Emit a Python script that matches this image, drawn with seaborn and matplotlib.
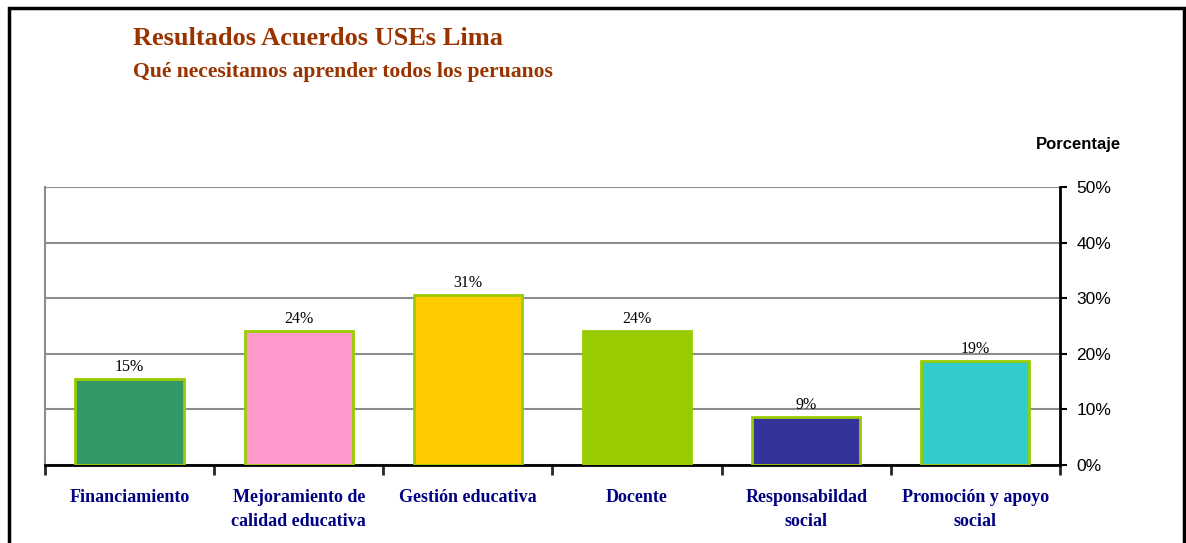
import numpy as np
import pandas as pd
import matplotlib
matplotlib.use("Agg")
import matplotlib.pyplot as plt
from matplotlib.patches import Rectangle
from matplotlib.ticker import FixedLocator, PercentFormatter
import seaborn as sns

# data
categories = ["Financiamiento", "Mejoramiento de\ncalidad educativa", "Gestión educativa",
              "Docente", "Responsabildad\nsocial", "Promoción y apoyo\nsocial"]
values = [15.4, 24.1, 30.6, 24.1, 8.6, 18.7]
bar_colors = ["#339966", "#FF99CC", "#FFCC00", "#99CC00", "#333399", "#33CCCC"]
y_ticks = [0, 10, 20, 30, 40, 50]

df = pd.DataFrame({"categoria": categories, "porcentaje": values})

sns.set_style("white")
fig = plt.figure(figsize=(11.86, 5.43), dpi=100)
ax = fig.add_axes([0.0379, 0.1436, 0.8558, 0.512])

sns.barplot(data=df, x="categoria", y="porcentaje", hue="categoria",
            palette=bar_colors, legend=False, width=0.64,
            edgecolor="#99CC00", linewidth=2, saturation=1, ax=ax, zorder=3)

ax.set_xlim(-0.5, len(categories) - 0.5)
ax.set_ylim(0, 50)
ax.set_yticks(y_ticks)
ax.yaxis.set_major_formatter(PercentFormatter(decimals=0))
ax.yaxis.tick_right()
ax.grid(axis="y", color="#8c8c8c", linewidth=1.5, zorder=0)
ax.set_axisbelow(True)

ax.set_xlabel("")
ax.set_ylabel("")
ax.spines["left"].set_color("#8c8c8c")
ax.spines["left"].set_linewidth(1.5)
ax.spines["top"].set_visible(False)
for spine in ["right", "bottom"]:
    ax.spines[spine].set_color("black")
    ax.spines[spine].set_linewidth(2)

ax.tick_params(axis="y", which="major", right=True, left=False, direction="out",
               length=5, width=1.5, pad=7, labelsize=12.5, colors="black")
for lab in ax.get_yticklabels():
    lab.set_fontfamily("Liberation Sans")

ax.xaxis.set_minor_locator(FixedLocator(np.arange(-0.5, len(categories), 1)))
ax.tick_params(axis="x", which="major", length=0, pad=17)
ax.tick_params(axis="x", which="minor", bottom=True, direction="out", length=7, width=2)
for lab in ax.get_xticklabels():
    lab.set_fontfamily("Liberation Serif")
    lab.set_fontweight("bold")
    lab.set_fontsize(13)
    lab.set_color("#000080")
    lab.set_verticalalignment("top")
    lab.set_linespacing(1.55)

for cont in ax.containers:
    ax.bar_label(cont, fmt="%.0f%%", padding=3, fontsize=11.5,
                 fontfamily="Liberation Serif", color="black")

fig.text(0.112, 0.93, "Resultados Acuerdos USEs Lima", fontsize=19, fontweight="bold",
         fontfamily="Liberation Serif", color="#993300", va="center")
fig.text(0.112, 0.867, "Qué necesitamos aprender todos los peruanos", fontsize=15.6,
         fontweight="bold", fontfamily="Liberation Serif", color="#993300", va="center")
fig.text(0.909, 0.733, "Porcentaje", fontsize=12, fontweight="bold",
         fontfamily="Liberation Sans", color="black", ha="center", va="center")

# outer chart border
fig.add_artist(Rectangle((0.0075, -0.05), 0.9905, 1.035, transform=fig.transFigure,
                         fill=False, edgecolor="black", linewidth=2.5, clip_on=False))

fig.savefig("out.png", dpi=100)
